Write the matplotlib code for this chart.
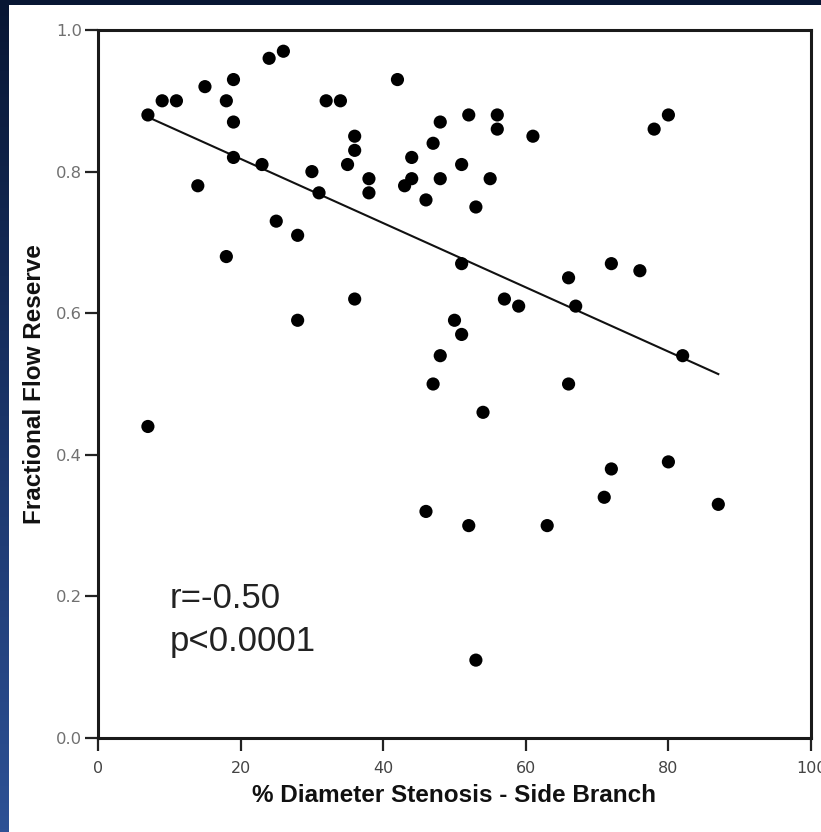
import numpy as np
import matplotlib
matplotlib.use('Agg')
import matplotlib.pyplot as plt
from matplotlib.patches import Rectangle

plt.rcParams['font.family'] = ['Liberation Sans', 'DejaVu Sans']

# Datos
stenosis = [7, 9, 11, 15, 19, 18, 19, 19, 23, 14, 24, 26, 32, 34, 30, 31, 25, 28,
            18, 36, 36, 35, 38, 38, 36, 28, 42, 44, 44, 43, 46, 47, 48, 48, 51, 52,
            53, 55, 51, 50, 51, 48, 47, 54, 56, 56, 61, 80, 78, 72, 76, 66, 67, 57,
            59, 66, 82, 7, 72, 80, 71, 87, 46, 52, 63, 53]
ffr = [0.88, 0.90, 0.90, 0.92, 0.93, 0.90, 0.87, 0.82, 0.81, 0.78, 0.96, 0.97,
       0.90, 0.90, 0.80, 0.77, 0.73, 0.71, 0.68, 0.85, 0.83, 0.81, 0.79, 0.77,
       0.62, 0.59, 0.93, 0.82, 0.79, 0.78, 0.76, 0.84, 0.87, 0.79, 0.81, 0.88,
       0.75, 0.79, 0.67, 0.59, 0.57, 0.54, 0.50, 0.46, 0.88, 0.86, 0.85, 0.88,
       0.86, 0.67, 0.66, 0.65, 0.61, 0.62, 0.61, 0.50, 0.54, 0.44, 0.38, 0.39,
       0.34, 0.33, 0.32, 0.30, 0.30, 0.11]

# Recta de regresion (extremos leidos)
fit_x = [7, 87]
fit_y = [0.877, 0.514]

x_ticks = [0, 20, 40, 60, 80, 100]
y_ticks = [0.0, 0.2, 0.4, 0.6, 0.8, 1.0]
stats_text = ["r=-0.50", "p<0.0001"]

fig = plt.figure(figsize=(8.21, 8.32), dpi=100)

# Fondo azul degradado con panel blanco
bg = fig.add_axes([0, 0, 1, 1], zorder=-10)
grad = np.linspace(0, 1, 256).reshape(-1, 1)
cmap = matplotlib.colors.LinearSegmentedColormap.from_list('bg', ['#081633', '#1a3468', '#2d5195'])
bg.imshow(grad, extent=[0, 1, 0, 1], aspect='auto', cmap=cmap, origin='upper')
bg.add_patch(Rectangle((9 / 821, 0), 1, 1 - 5 / 832, transform=bg.transAxes,
                       facecolor='white', edgecolor='none'))
bg.set_xlim(0, 1)
bg.set_ylim(0, 1)
bg.axis('off')

ax = fig.add_axes([98 / 821, 1 - 738 / 832, 713 / 821, 708 / 832])
ax.set_facecolor('white')

ax.plot(fit_x, fit_y, color='#111111', lw=1.5, zorder=2)
ax.scatter(stenosis, ffr, s=90, color='black', edgecolors='none', zorder=3)

ax.set_xlim(0, 100)
ax.set_ylim(0, 1.0)
ax.set_xticks(x_ticks)
ax.set_yticks(y_ticks)
ax.set_xticklabels([str(t) for t in x_ticks], family='DejaVu Sans', fontsize=11.5, color='#444444')
ax.set_yticklabels(['%.1f' % t for t in y_ticks], family='DejaVu Sans', fontsize=11.8, color='#707070')
ax.tick_params(axis='both', direction='out', length=9.5, width=1.6, color='#222222')
ax.tick_params(axis='x', pad=7)
ax.tick_params(axis='y', pad=2)

for s in ax.spines.values():
    s.set_linewidth(2.2)
    s.set_color('#1a1a1a')

ax.set_xlabel('% Diameter Stenosis - Side Branch', fontsize=17.5, fontweight='bold',
              color='#111111', labelpad=6)
ax.set_ylabel('Fractional Flow Reserve', fontsize=17.5, fontweight='bold',
              color='#111111', labelpad=7)

ax.text(10, 0.184, stats_text[0], fontsize=25, color='#222222', ha='left', va='baseline')
ax.text(10, 0.123, stats_text[1], fontsize=25, color='#222222', ha='left', va='baseline')

fig.savefig('out.png', dpi=100)
